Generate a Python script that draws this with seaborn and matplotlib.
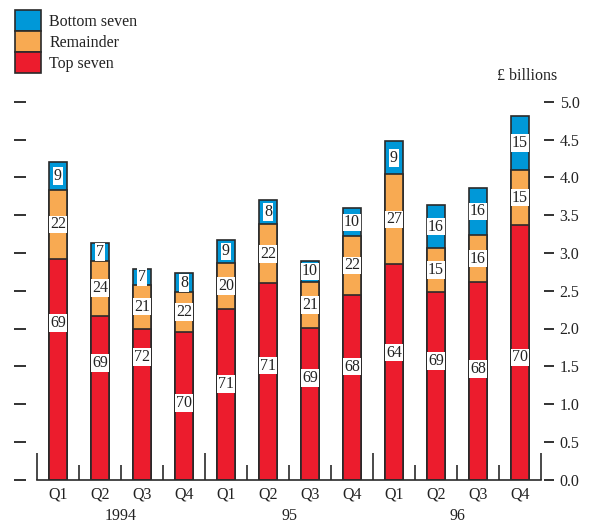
import numpy as np
import pandas as pd
import matplotlib
matplotlib.use("Agg")
import matplotlib.pyplot as plt
from matplotlib.patches import Patch
import seaborn as sns

# ─── Data (£ billions) ──────────────────────────────────────────────────────
years        = ["1994", "95", "96"]
quarters     = ["Q1", "Q2", "Q3", "Q4"]
top_seven    = [2.92, 2.17, 2.00, 1.95, 2.26, 2.60, 2.01, 2.45, 2.85, 2.49, 2.61, 3.37]
remainder    = [0.92, 0.73, 0.58, 0.53, 0.61, 0.78, 0.60, 0.77, 1.19, 0.57, 0.63, 0.73]
bottom_seven = [0.36, 0.23, 0.21, 0.25, 0.30, 0.32, 0.29, 0.37, 0.44, 0.58, 0.62, 0.72]
top_pct      = [69, 69, 72, 70, 71, 71, 69, 68, 64, 69, 68, 70]
rem_pct      = [22, 24, 21, 22, 20, 22, 21, 22, 27, 15, 16, 15]
bot_pct      = [9, 7, 7, 8, 9, 8, 10, 10, 9, 16, 16, 15]
y_ticks      = [0.0, 0.5, 1.0, 1.5, 2.0, 2.5, 3.0, 3.5, 4.0, 4.5, 5.0]

# where the red labels sit inside their segment (fraction of height)
red_lab_frac = [0.71, 0.71, 0.81, 0.52, 0.56, 0.58, 0.67, 0.61, 0.59, 0.63, 0.56, 0.48]

BLUE, ORANGE, RED = "#0098D8", "#F8AA52", "#EC1C2D"
EDGE = "#2a2a2a"
FS = 11.5

sns.set_style("white")
plt.rcParams.update({
    "font.family": ["Liberation Serif", "DejaVu Serif"],
    "text.color": "#222222",
    "xtick.color": "#222222",
    "ytick.color": "#222222",
})

periods = [f"{y} {q}" for y in years for q in quarters]
df = pd.DataFrame({
    "period": periods,
    "top": top_seven,
    "rem": remainder,
    "bot": bottom_seven,
})
df["cum_rem"] = df["top"] + df["rem"]
df["total"] = df["cum_rem"] + df["bot"]

fig = plt.figure(figsize=(5.92, 5.23), dpi=100)
ax = fig.add_axes([37 / 592, 43.5 / 523, 504 / 592, 377.5 / 523])

for col, colr in [("total", BLUE), ("cum_rem", ORANGE), ("top", RED)]:
    sns.barplot(data=df, x="period", y=col, order=periods, color=colr,
                saturation=1, width=0.42, edgecolor=EDGE, linewidth=1.2, ax=ax)

box = dict(facecolor="white", edgecolor="none", pad=0.6)
for i, r in df.iterrows():
    ax.text(i, r["top"] * red_lab_frac[i], str(top_pct[i]), ha="center",
            va="center", fontsize=FS, bbox=box)
    ax.text(i, r["top"] + r["rem"] / 2, str(rem_pct[i]), ha="center",
            va="center", fontsize=FS, bbox=box)
    ax.text(i, r["cum_rem"] + r["bot"] / 2, str(bot_pct[i]), ha="center",
            va="center", fontsize=FS, bbox=box)

ax.set_xlim(-0.5, 11.5)
ax.set_ylim(0, 5.0)
ax.set_xlabel(""); ax.set_ylabel("")

# spines
for s in ["top", "right", "left"]:
    ax.spines[s].set_visible(False)
ax.spines["bottom"].set_color(EDGE)
ax.spines["bottom"].set_linewidth(1.2)
ax.spines["left"].set_position(("outward", 8))
ax.spines["right"].set_position(("outward", 2))

# y ticks: bare dashes on the left, labelled on the right
ax.set_yticks(y_ticks)
ax.set_yticklabels([f"{v:.1f}" for v in y_ticks])
ax.tick_params(axis="y", left=True, right=True, labelleft=False, labelright=True,
               direction="out", width=1.3, pad=8, labelsize=FS)
for t in ax.yaxis.get_major_ticks():
    t.tick1line.set_markersize(8.6)
    t.tick2line.set_markersize(7.2)

# x ticks: boundaries as inward ticks, quarter labels at bar centres
bounds = np.arange(-0.5, 12, 1.0)
ax.set_xticks(bounds)
ax.set_xticklabels([""] * len(bounds))
ax.set_xticks(np.arange(12), minor=True)
ax.set_xticklabels(quarters * 3, minor=True)
ax.tick_params(axis="x", which="major", bottom=True, direction="in",
               width=1.2, color=EDGE)
ax.tick_params(axis="x", which="minor", bottom=True, length=0, pad=5,
               labelsize=FS)
for b, t in zip(bounds, ax.xaxis.get_major_ticks()):
    t.tick1line.set_markersize(19.5 if b in (-0.5, 3.5, 7.5, 11.5) else 10.8)

for k, yr in enumerate(years):
    ax.annotate(yr, xy=(4 * k + 1.5, 0), xycoords=("data", "axes fraction"),
                xytext=(0, -26), textcoords="offset points",
                ha="center", va="center", fontsize=FS)

fig.text(557 / 592, 1 - 76 / 523, "£ billions", ha="right", va="center",
         fontsize=FS)

handles = [Patch(facecolor=BLUE, edgecolor=EDGE, linewidth=1.2, label="Bottom seven"),
           Patch(facecolor=ORANGE, edgecolor=EDGE, linewidth=1.2, label="Remainder"),
           Patch(facecolor=RED, edgecolor=EDGE, linewidth=1.2, label="Top seven")]
fig.legend(handles=handles, loc="upper left", bbox_to_anchor=(15 / 592, 1 - 10 / 523),
           frameon=False, fontsize=FS, handlelength=1.65, handleheight=1.65,
           labelspacing=0, borderpad=0, borderaxespad=0, handletextpad=0.5)

fig.savefig("out.png", dpi=100)
